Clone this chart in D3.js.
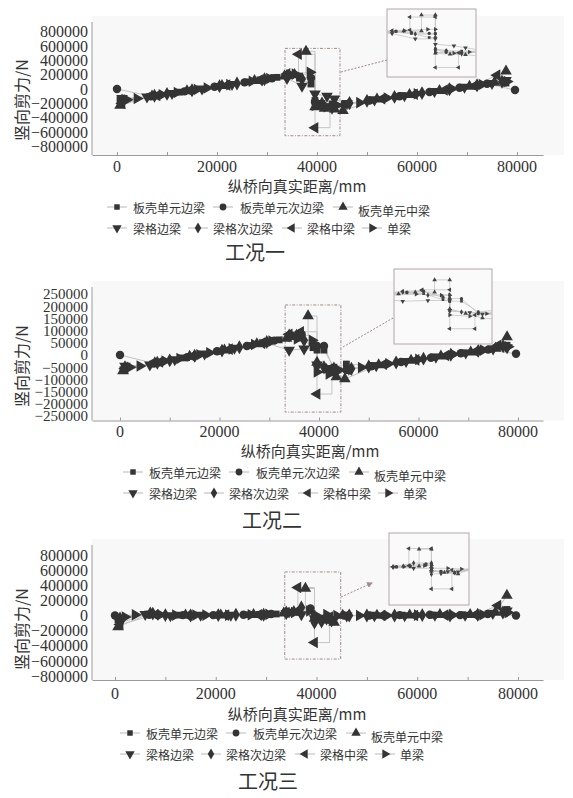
<!DOCTYPE html>
<html>
<head>
<meta charset="utf-8">
<script src="https://cdn.jsdelivr.net/npm/d3@7"></script>
<style>
  body { margin: 0; background: #fff; }
  svg text { fill: #333; }
</style>
</head>
<body>
<div id="root"></div>
<script>
// series legend names (markers: square, circle, up, down, diamond, left, right)
const seriesNames = ["板壳单元边梁", "板壳单元次边梁", "板壳单元中梁", "梁格边梁", "梁格次边梁", "梁格中梁", "单梁"];
const caseTitles = ["工况一", "工况二", "工况三"];
const xTicks = [0, 20000, 40000, 60000, 80000];
const yTicksBig = [800000, 600000, 400000, 200000, 0, -200000, -400000, -600000, -800000];
const yTicksSmall = [250000, 200000, 150000, 100000, 50000, 0, -50000, -100000, -150000, -200000, -250000];

// stations along the bridge (mm), shared by the three load cases
const stSquare = [600, 6500, 12500, 20000, 26000, 32000, 34500, 36500, 38800, 39600, 39600, 41000, 43000, 45500, 51000, 57000, 63000, 69000, 74500, 77800];
const stCircle = [0, 6800, 13500, 19500, 25500, 31000, 34500, 36500, 38800, 39600, 39600, 41000, 43000, 45500, 50500, 56500, 62500, 68500, 74000, 79600];
const stUp = [600, 7000, 14000, 21000, 27500, 33500, 35500, 37800, 37800, 39600, 39600, 41500, 43500, 45200, 52000, 58500, 64500, 70500, 75500, 77800];
const stDown = [1000, 6000, 11000, 17000, 23000, 29000, 34000, 37000, 39600, 39600, 42000, 43500, 46000, 51500, 57500, 63500, 69500, 75000, 77800];
const stDiamond = [1000, 7500, 10000, 15000, 20500, 24000, 29500, 34000, 37000, 39600, 39600, 41000, 43000, 46500, 50000, 55500, 61000, 66500, 72000, 77000];
const stLeft = [1000, 8000, 14500, 22000, 28500, 34000, 36300, 36300, 39600, 39600, 42600, 42600, 46000, 53000, 59500, 65500, 71500, 76000];
const stRight = [2000, 4000, 9000, 12000, 16000, 18000, 22500, 27000, 30500, 35600, 38600, 39600, 39600, 42000, 44000, 48500, 54000, 60000, 67000, 73000, 78000];

// case 1 shear (N)
const c1Square = [-150000, -107000, -44000, 36000, 99000, 162000, 190000, 150000, 69000, 69000, -160000, -200000, -207000, -210000, -152000, -94000, -36000, 22000, 78000, 83000];
const c1Circle = [0, -100000, -33000, 30000, 92000, 150000, 195000, 170000, 152000, 152000, -180000, -230000, -235000, -215000, -160000, -100000, -42000, 17000, 72000, -14000];
const c1Up = [-230000, -100000, -27000, 47000, 115000, 180000, 200000, 200000, 524000, 524000, -250000, -270000, -280000, -303000, -143000, -80000, -22000, 37000, 90000, 248000];
const c1Down = [-130000, -110000, -60000, 2000, 66000, 128000, 150000, 41000, 41000, -69000, -100000, -138000, -200000, -150000, -90000, -32000, 27000, 80000, 120000];
const c1Diamond = [-160000, -95000, -68000, -17000, 40000, 77000, 135000, 185000, 138000, 138000, -165000, -200000, -262000, -195000, -165000, -110000, -57000, -3000, 52000, 100000];
const c1Left = [-200000, -90000, -22000, 56000, 125000, 210000, 220000, 483000, 483000, -538000, -538000, -240000, -205000, -135000, -72000, -13000, 46000, 193000];
const c1Right = [-150000, -133000, -80000, -49000, -7000, 14000, 61000, 108000, 145000, 207000, 234000, 234000, -230000, -248000, -225000, -190000, -125000, -66000, 3000, 62000, 105000];

// case 2 shear (N)
const c2Square = [-60000, -37000, -12000, 16000, 39000, 62000, 75000, 70000, 30000, 20000, 20000, 20000, -50000, -37000, -44000, -27000, -9000, 8000, 24000, 40000];
const c2Circle = [0, -34000, -9000, 15000, 37000, 59000, 80000, 85000, 45000, 37000, 37000, 37000, -60000, -62000, -46000, -29000, -11000, 7000, 22000, 5000];
const c2Up = [-65000, -33000, -6000, 20000, 45000, 68000, 80000, 80000, 160000, 160000, -30000, -60000, -90000, -98000, -41000, -22000, -5000, 12000, 27000, 74000];
const c2Down = [-45000, -40000, -19000, 5000, 28000, 51000, 20000, 25000, 25000, -40000, -55000, -65000, -58000, -43000, -26000, -8000, 9000, 25000, 30000];
const c2Diamond = [-50000, -32000, -22000, -3000, 18000, 32000, 53000, 80000, 60000, 60000, -45000, -50000, -55000, -56000, -47000, -31000, -15000, 1000, 17000, 36000];
const c2Left = [-55000, -29000, -5000, 24000, 49000, 85000, 90000, 95000, 95000, -160000, -160000, -70000, -60000, -38000, -20000, -2000, 15000, 40000];
const c2Right = [-50000, -45000, -25000, -14000, 1000, 9000, 25000, 43000, 57000, 66000, 60000, 60000, -70000, -78000, -62000, -51000, -36000, -18000, 3000, 20000, 34000];

// case 3 shear (N)
const c3Square = [-60000, 20000, 5000, 5000, 10000, 20000, 35000, 40000, 70000, 70000, -20000, -40000, -70000, 0, 5000, 5000, 5000, 10000, 30000, 80000];
const c3Circle = [0, 10000, 5000, 5000, 10000, 20000, 40000, 60000, 93000, 93000, -30000, -50000, -66000, 0, 0, 5000, 10000, 5000, 20000, 0];
const c3Up = [-150000, 30000, 5000, 5000, 10000, 30000, 50000, 50000, 357000, 357000, -40000, -60000, -90000, 0, 0, 5000, 10000, 10000, 40000, 265000];
const c3Down = [-100000, 15000, 0, 5000, 5000, 15000, 30000, 13000, 13000, -40000, -45000, -50000, -5000, 0, 0, 5000, 5000, 30000, 60000];
const c3Diamond = [-40000, 25000, 5000, 0, 5000, 10000, 10000, 40000, 106000, 106000, -93000, -80000, -66000, 0, 0, 0, 5000, 0, 10000, 40000];
const c3Left = [-120000, 10000, 0, 5000, 10000, 40000, 60000, 370000, 370000, -358000, -358000, -20000, 0, 0, 0, 5000, 10000, 132000];
const c3Right = [-20000, 10000, 10000, 5000, 5000, 5000, 5000, 10000, 15000, 40000, 60000, 60000, 13000, 13000, 0, 0, 0, 5000, 5000, 10000, 40000];

const stations = [stSquare, stCircle, stUp, stDown, stDiamond, stLeft, stRight];
const caseValues = [
  [c1Square, c1Circle, c1Up, c1Down, c1Diamond, c1Left, c1Right],
  [c2Square, c2Circle, c2Up, c2Down, c2Diamond, c2Left, c2Right],
  [c3Square, c3Circle, c3Up, c3Down, c3Diamond, c3Left, c3Right]
];

const SYMBOLS = [
  { type: d3.symbolSquare, size: 46, rot: 0 },
  { type: d3.symbolCircle, size: 56, rot: 0 },
  { type: d3.symbolTriangle, size: 58, rot: 0 },
  { type: d3.symbolTriangle, size: 58, rot: 180 },
  { type: d3.symbolDiamond, size: 56, rot: 0 },
  { type: d3.symbolTriangle, size: 58, rot: -90 },
  { type: d3.symbolTriangle, size: 58, rot: 90 }
];

const COLORS = { mark: "#343434", line: "#c4c4c4", axis: "#9a9a9a", box: "#a08c8c", inset: "#b3a6a6" };
const SERIF = "'Liberation Serif', 'DejaVu Serif', serif";
const CJK = "'Noto Sans CJK SC', sans-serif";

const LAYOUT = [
  { top: 22, bottom: 155, xr: [117, 517], yr: [800000, 31.5, -800000, 146.5], yTicks: yTicksBig, yFont: 16,
    xLabelX: 297, xLabelY: 185, yLabelY: 100, tickLabelY: 166, legendY: [207, 228], legendDx: 0,
    titleX: 255, titleY: 251, box: [33600, 44600, -650000, 565000],
    inset: [387, 9, 476, 77], link: [341, 72, 387, 60], arrow: false },
  { top: 287, bottom: 420.5, xr: [120, 518], yr: [250000, 294, -250000, 416], yTicks: yTicksSmall, yFont: 15,
    xLabelX: 310, xLabelY: 450, yLabelY: 366, tickLabelY: 431, legendY: [472, 493], legendDx: 16,
    titleX: 272, titleY: 519, box: [33200, 44400, -234000, 205000],
    inset: [394, 269, 492, 344], link: [343, 347, 393, 318], arrow: false },
  { top: 545, bottom: 680, xr: [115, 518], yr: [800000, 555, -800000, 676], yTicks: yTicksBig, yFont: 16,
    xLabelX: 297, xLabelY: 713, yLabelY: 629, tickLabelY: 693, legendY: [733, 754], legendDx: 13,
    titleX: 268, titleY: 780, box: [33700, 44800, -576000, 576000],
    inset: [389, 533, 469, 605], link: [341, 597, 372, 583], arrow: true }
];

const LEGEND_ROWS = [
  [{ s: 0, mx: 117, tx: 133 }, { s: 1, mx: 223, tx: 240 }, { s: 2, mx: 343, tx: 358, dy: 3 }],
  [{ s: 3, mx: 117, tx: 133 }, { s: 4, mx: 198, tx: 213 }, { s: 5, mx: 292, tx: 307 }, { s: 6, mx: 372, tx: 387 }]
];

const svg = d3.select("#root").append("svg")
  .attr("width", 573).attr("height", 798)
  .style("font-family", SERIF);

svg.append("defs").append("marker")
  .attr("id", "arrow").attr("viewBox", "0 0 6 6").attr("refX", 5).attr("refY", 3)
  .attr("markerWidth", 6).attr("markerHeight", 6).attr("orient", "auto")
  .append("path").attr("d", "M0,0L6,3L0,6Z").attr("fill", COLORS.box);

function symbolPath(s, scale) {
  return d3.symbol().type(SYMBOLS[s].type).size(SYMBOLS[s].size * (scale || 1))();
}

// a point that only starts a vertical step (next point at same station) carries no marker
function markedPoints(pts) {
  return pts.filter((d, i) => !(i + 1 < pts.length && pts[i + 1][0] === d[0]));
}

function drawPanel(p, L) {
  const g = svg.append("g");

  // linear scales built from two tick positions
  const pxPerMm = (L.xr[1] - L.xr[0]) / 80000;
  const x = d3.scaleLinear()
    .domain([(92 - L.xr[0]) / pxPerMm, (543 - L.xr[0]) / pxPerMm])
    .range([92, 543]);
  const pxPerN = (L.yr[3] - L.yr[1]) / (L.yr[0] - L.yr[2]);
  const y0 = L.yr[1] + L.yr[0] * pxPerN;
  const y = d3.scaleLinear()
    .domain([(y0 - L.bottom) / pxPerN, (y0 - L.top) / pxPerN])
    .range([L.bottom, L.top]);

  g.append("rect").attr("x", 92).attr("y", L.top - 6).attr("width", 472).attr("height", L.bottom - L.top + 6)
    .attr("fill", "#f8f8f8");

  const series = stations.map((st, s) => st.map((d, i) => [d, caseValues[p][s][i]]));

  const line = d3.line().x(d => x(d[0])).y(d => y(d[1]));

  // dashed zoom box
  const B = L.box;
  g.append("rect")
    .attr("x", x(B[0])).attr("y", y(B[3]))
    .attr("width", x(B[1]) - x(B[0])).attr("height", y(B[2]) - y(B[3]))
    .attr("fill", "none").attr("stroke", COLORS.box).attr("stroke-width", 1)
    .attr("stroke-dasharray", "3,1.5,1,1.5");

  g.selectAll(".series-line").data(series).enter().append("path")
    .attr("class", "series-line")
    .attr("d", line).attr("fill", "none")
    .attr("stroke", COLORS.line).attr("stroke-width", 1);

  series.forEach((pts, s) => {
    g.selectAll(null).data(markedPoints(pts)).enter().append("path")
      .attr("d", symbolPath(s))
      .attr("transform", d => `translate(${x(d[0])},${y(d[1])}) rotate(${SYMBOLS[s].rot})`)
      .attr("fill", COLORS.mark);
  });

  // axes
  const xAxis = d3.axisBottom(x)
    .tickValues(d3.range(0, 80001, 10000))
    .tickSizeInner(-3).tickSizeOuter(0)
    .tickFormat(() => "");
  const ax = g.append("g").attr("transform", `translate(0,${L.bottom})`).call(xAxis);
  ax.select(".domain").attr("stroke", COLORS.axis);
  ax.selectAll(".tick line").attr("stroke", COLORS.axis);

  g.selectAll(".xlab").data(xTicks).enter().append("text")
    .attr("x", d => x(d)).attr("y", L.tickLabelY)
    .attr("text-anchor", "middle").attr("dominant-baseline", "central")
    .attr("font-family", SERIF).attr("font-size", 16).text(d => d);

  g.append("line").attr("x1", 92).attr("x2", 92).attr("y1", L.top).attr("y2", L.bottom)
    .attr("stroke", COLORS.axis);

  const yAxis = d3.axisLeft(y).tickValues(L.yTicks).tickSize(0).tickPadding(4)
    .tickFormat(d => d < 0 ? "\u2212" + Math.abs(d) : d);
  const ay = g.append("g").attr("transform", "translate(92,0)").call(yAxis);
  ay.attr("font-family", SERIF);
  ay.select(".domain").remove();
  ay.selectAll("text").attr("font-size", L.yFont).attr("font-family", SERIF).attr("fill", "#333");

  // axis titles
  g.append("text")
    .attr("transform", `translate(21,${L.yLabelY}) rotate(-90)`)
    .attr("text-anchor", "middle").attr("dominant-baseline", "central")
    .attr("font-size", 16).attr("font-family", CJK)
    .text("竖向剪力/N");

  g.append("text")
    .attr("x", L.xLabelX).attr("y", L.xLabelY)
    .attr("text-anchor", "middle").attr("dominant-baseline", "central")
    .attr("font-size", 15).attr("font-family", CJK)
    .text("纵桥向真实距离/mm");

  // inset with enlarged box region
  const R = L.inset;
  const ix = d3.scaleLinear().domain([B[0], B[1]]).range([R[0] + 2, R[2] - 2]);
  const iy = d3.scaleLinear().domain([B[2], B[3]]).range([R[3] - 4, R[1] + 4]);
  const clipId = "clip" + p;
  g.append("clipPath").attr("id", clipId).append("rect")
    .attr("x", R[0]).attr("y", R[1]).attr("width", R[2] - R[0]).attr("height", R[3] - R[1]);
  g.append("rect").attr("x", R[0]).attr("y", R[1]).attr("width", R[2] - R[0]).attr("height", R[3] - R[1])
    .attr("fill", "#fafafa").attr("stroke", COLORS.inset).attr("stroke-width", 1);
  const ig = g.append("g").attr("clip-path", `url(#${clipId})`);
  const iline = d3.line().x(d => ix(d[0])).y(d => iy(d[1]));
  ig.selectAll(null).data(series).enter().append("path")
    .attr("d", iline).attr("fill", "none").attr("stroke", COLORS.line).attr("stroke-width", 0.8);
  series.forEach((pts, s) => {
    ig.selectAll(null).data(pts.filter(d => d[0] >= B[0] && d[0] <= B[1])).enter().append("path")
      .attr("d", symbolPath(s, 0.16))
      .attr("transform", d => `translate(${ix(d[0])},${iy(d[1])}) rotate(${SYMBOLS[s].rot})`)
      .attr("fill", "#444");
  });

  const lk = L.link;
  g.append("line").attr("x1", lk[0]).attr("y1", lk[1]).attr("x2", lk[2]).attr("y2", lk[3])
    .attr("stroke", COLORS.box).attr("stroke-width", 1).attr("stroke-dasharray", "2,1.5")
    .attr("marker-end", L.arrow ? "url(#arrow)" : null);

  // legend
  LEGEND_ROWS.forEach((row, r) => {
    row.forEach(item => {
      const cy = L.legendY[r];
      const mx = item.mx + L.legendDx;
      g.append("line").attr("x1", mx - 10).attr("x2", mx + 10).attr("y1", cy).attr("y2", cy)
        .attr("stroke", COLORS.line).attr("stroke-width", 1.2);
      g.append("path").attr("d", symbolPath(item.s, 0.65))
        .attr("transform", `translate(${mx},${cy}) rotate(${SYMBOLS[item.s].rot})`)
        .attr("fill", COLORS.mark);
      g.append("text")
        .attr("x", item.tx + L.legendDx).attr("y", cy + (item.dy || 0))
        .attr("dominant-baseline", "central")
        .attr("font-size", 12).attr("font-family", CJK)
        .text(seriesNames[item.s]);
    });
  });

  g.append("text")
    .attr("x", L.titleX).attr("y", L.titleY)
    .attr("text-anchor", "middle").attr("dominant-baseline", "central")
    .attr("font-size", 20).attr("font-family", CJK)
    .text(caseTitles[p]);
}

LAYOUT.forEach((L, p) => drawPanel(p, L));
</script>
</body>
</html>
